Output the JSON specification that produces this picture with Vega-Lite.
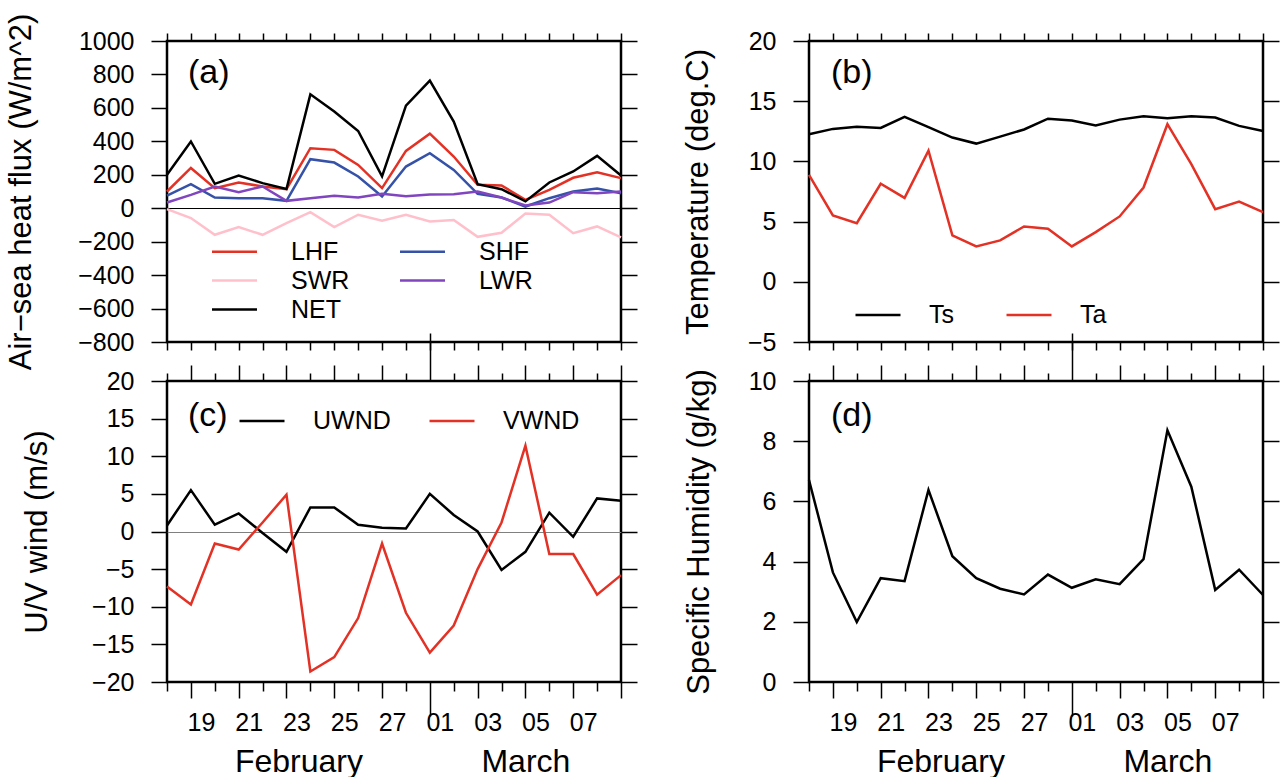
{
  "$schema": "https://vega.github.io/schema/vega-lite/v6.json",
  "background": "white",
  "padding": {"left": 4, "top": 11, "right": 5, "bottom": 5},
  "datasets": {
    "flux": [
      {"t":"2015-02-18","k":"LHF","v":100},{"t":"2015-02-19","k":"LHF","v":241},{"t":"2015-02-20","k":"LHF","v":120},{"t":"2015-02-21","k":"LHF","v":154},{"t":"2015-02-22","k":"LHF","v":130},{"t":"2015-02-23","k":"LHF","v":114},{"t":"2015-02-24","k":"LHF","v":359},{"t":"2015-02-25","k":"LHF","v":349},{"t":"2015-02-26","k":"LHF","v":259},{"t":"2015-02-27","k":"LHF","v":120},{"t":"2015-02-28","k":"LHF","v":343},{"t":"2015-03-01","k":"LHF","v":446},{"t":"2015-03-02","k":"LHF","v":309},{"t":"2015-03-03","k":"LHF","v":140},{"t":"2015-03-04","k":"LHF","v":136},{"t":"2015-03-05","k":"LHF","v":50},{"t":"2015-03-06","k":"LHF","v":110},{"t":"2015-03-07","k":"LHF","v":182},{"t":"2015-03-08","k":"LHF","v":215},{"t":"2015-03-09","k":"LHF","v":180},
      {"t":"2015-02-18","k":"SHF","v":76},{"t":"2015-02-19","k":"SHF","v":144},{"t":"2015-02-20","k":"SHF","v":64},{"t":"2015-02-21","k":"SHF","v":60},{"t":"2015-02-22","k":"SHF","v":60},{"t":"2015-02-23","k":"SHF","v":44},{"t":"2015-02-24","k":"SHF","v":293},{"t":"2015-02-25","k":"SHF","v":273},{"t":"2015-02-26","k":"SHF","v":190},{"t":"2015-02-27","k":"SHF","v":70},{"t":"2015-02-28","k":"SHF","v":249},{"t":"2015-03-01","k":"SHF","v":329},{"t":"2015-03-02","k":"SHF","v":229},{"t":"2015-03-03","k":"SHF","v":86},{"t":"2015-03-04","k":"SHF","v":64},{"t":"2015-03-05","k":"SHF","v":10},{"t":"2015-03-06","k":"SHF","v":60},{"t":"2015-03-07","k":"SHF","v":100},{"t":"2015-03-08","k":"SHF","v":118},{"t":"2015-03-09","k":"SHF","v":90},
      {"t":"2015-02-18","k":"SWR","v":-5},{"t":"2015-02-19","k":"SWR","v":-59},{"t":"2015-02-20","k":"SWR","v":-159},{"t":"2015-02-21","k":"SWR","v":-113},{"t":"2015-02-22","k":"SWR","v":-159},{"t":"2015-02-23","k":"SWR","v":-89},{"t":"2015-02-24","k":"SWR","v":-24},{"t":"2015-02-25","k":"SWR","v":-113},{"t":"2015-02-26","k":"SWR","v":-39},{"t":"2015-02-27","k":"SWR","v":-75},{"t":"2015-02-28","k":"SWR","v":-39},{"t":"2015-03-01","k":"SWR","v":-79},{"t":"2015-03-02","k":"SWR","v":-71},{"t":"2015-03-03","k":"SWR","v":-171},{"t":"2015-03-04","k":"SWR","v":-147},{"t":"2015-03-05","k":"SWR","v":-31},{"t":"2015-03-06","k":"SWR","v":-39},{"t":"2015-03-07","k":"SWR","v":-149},{"t":"2015-03-08","k":"SWR","v":-109},{"t":"2015-03-09","k":"SWR","v":-175},
      {"t":"2015-02-18","k":"LWR","v":34},{"t":"2015-02-19","k":"LWR","v":80},{"t":"2015-02-20","k":"LWR","v":130},{"t":"2015-02-21","k":"LWR","v":96},{"t":"2015-02-22","k":"LWR","v":130},{"t":"2015-02-23","k":"LWR","v":44},{"t":"2015-02-24","k":"LWR","v":60},{"t":"2015-02-25","k":"LWR","v":74},{"t":"2015-02-26","k":"LWR","v":64},{"t":"2015-02-27","k":"LWR","v":86},{"t":"2015-02-28","k":"LWR","v":72},{"t":"2015-03-01","k":"LWR","v":82},{"t":"2015-03-02","k":"LWR","v":84},{"t":"2015-03-03","k":"LWR","v":100},{"t":"2015-03-04","k":"LWR","v":64},{"t":"2015-03-05","k":"LWR","v":16},{"t":"2015-03-06","k":"LWR","v":34},{"t":"2015-03-07","k":"LWR","v":96},{"t":"2015-03-08","k":"LWR","v":90},{"t":"2015-03-09","k":"LWR","v":100},
      {"t":"2015-02-18","k":"NET","v":200},{"t":"2015-02-19","k":"NET","v":399},{"t":"2015-02-20","k":"NET","v":146},{"t":"2015-02-21","k":"NET","v":196},{"t":"2015-02-22","k":"NET","v":150},{"t":"2015-02-23","k":"NET","v":115},{"t":"2015-02-24","k":"NET","v":681},{"t":"2015-02-25","k":"NET","v":578},{"t":"2015-02-26","k":"NET","v":462},{"t":"2015-02-27","k":"NET","v":190},{"t":"2015-02-28","k":"NET","v":614},{"t":"2015-03-01","k":"NET","v":763},{"t":"2015-03-02","k":"NET","v":518},{"t":"2015-03-03","k":"NET","v":144},{"t":"2015-03-04","k":"NET","v":114},{"t":"2015-03-05","k":"NET","v":41},{"t":"2015-03-06","k":"NET","v":154},{"t":"2015-03-07","k":"NET","v":220},{"t":"2015-03-08","k":"NET","v":313},{"t":"2015-03-09","k":"NET","v":196}
    ],
    "temp": [
      {"t":"2015-02-18","k":"Ts","v":12.26},{"t":"2015-02-19","k":"Ts","v":12.70},{"t":"2015-02-20","k":"Ts","v":12.87},{"t":"2015-02-21","k":"Ts","v":12.78},{"t":"2015-02-22","k":"Ts","v":13.70},{"t":"2015-02-23","k":"Ts","v":12.84},{"t":"2015-02-24","k":"Ts","v":11.98},{"t":"2015-02-25","k":"Ts","v":11.48},{"t":"2015-02-26","k":"Ts","v":12.06},{"t":"2015-02-27","k":"Ts","v":12.65},{"t":"2015-02-28","k":"Ts","v":13.55},{"t":"2015-03-01","k":"Ts","v":13.39},{"t":"2015-03-02","k":"Ts","v":12.98},{"t":"2015-03-03","k":"Ts","v":13.47},{"t":"2015-03-04","k":"Ts","v":13.75},{"t":"2015-03-05","k":"Ts","v":13.58},{"t":"2015-03-06","k":"Ts","v":13.75},{"t":"2015-03-07","k":"Ts","v":13.64},{"t":"2015-03-08","k":"Ts","v":12.95},{"t":"2015-03-09","k":"Ts","v":12.53},
      {"t":"2015-02-18","k":"Ta","v":8.88},{"t":"2015-02-19","k":"Ta","v":5.51},{"t":"2015-02-20","k":"Ta","v":4.87},{"t":"2015-02-21","k":"Ta","v":8.14},{"t":"2015-02-22","k":"Ta","v":6.97},{"t":"2015-02-23","k":"Ta","v":10.90},{"t":"2015-02-24","k":"Ta","v":3.85},{"t":"2015-02-25","k":"Ta","v":2.94},{"t":"2015-02-26","k":"Ta","v":3.44},{"t":"2015-02-27","k":"Ta","v":4.60},{"t":"2015-02-28","k":"Ta","v":4.40},{"t":"2015-03-01","k":"Ta","v":2.94},{"t":"2015-03-02","k":"Ta","v":4.13},{"t":"2015-03-03","k":"Ta","v":5.43},{"t":"2015-03-04","k":"Ta","v":7.83},{"t":"2015-03-05","k":"Ta","v":13.09},{"t":"2015-03-06","k":"Ta","v":9.77},{"t":"2015-03-07","k":"Ta","v":6.03},{"t":"2015-03-08","k":"Ta","v":6.67},{"t":"2015-03-09","k":"Ta","v":5.79}
    ],
    "wind": [
      {"t":"2015-02-18","k":"UWND","v":0.8},{"t":"2015-02-19","k":"UWND","v":5.5},{"t":"2015-02-20","k":"UWND","v":0.9},{"t":"2015-02-21","k":"UWND","v":2.4},{"t":"2015-02-22","k":"UWND","v":-0.2},{"t":"2015-02-23","k":"UWND","v":-2.7},{"t":"2015-02-24","k":"UWND","v":3.2},{"t":"2015-02-25","k":"UWND","v":3.2},{"t":"2015-02-26","k":"UWND","v":0.9},{"t":"2015-02-27","k":"UWND","v":0.5},{"t":"2015-02-28","k":"UWND","v":0.4},{"t":"2015-03-01","k":"UWND","v":5.0},{"t":"2015-03-02","k":"UWND","v":2.2},{"t":"2015-03-03","k":"UWND","v":0.0},{"t":"2015-03-04","k":"UWND","v":-5.1},{"t":"2015-03-05","k":"UWND","v":-2.7},{"t":"2015-03-06","k":"UWND","v":2.5},{"t":"2015-03-07","k":"UWND","v":-0.7},{"t":"2015-03-08","k":"UWND","v":4.4},{"t":"2015-03-09","k":"UWND","v":4.1},
      {"t":"2015-02-18","k":"VWND","v":-7.3},{"t":"2015-02-19","k":"VWND","v":-9.7},{"t":"2015-02-20","k":"VWND","v":-1.6},{"t":"2015-02-21","k":"VWND","v":-2.4},{"t":"2015-02-22","k":"VWND","v":1.2},{"t":"2015-02-23","k":"VWND","v":4.9},{"t":"2015-02-24","k":"VWND","v":-18.6},{"t":"2015-02-25","k":"VWND","v":-16.7},{"t":"2015-02-26","k":"VWND","v":-11.5},{"t":"2015-02-27","k":"VWND","v":-1.6},{"t":"2015-02-28","k":"VWND","v":-10.8},{"t":"2015-03-01","k":"VWND","v":-16.1},{"t":"2015-03-02","k":"VWND","v":-12.5},{"t":"2015-03-03","k":"VWND","v":-5.0},{"t":"2015-03-04","k":"VWND","v":1.2},{"t":"2015-03-05","k":"VWND","v":11.4},{"t":"2015-03-06","k":"VWND","v":-3.0},{"t":"2015-03-07","k":"VWND","v":-3.0},{"t":"2015-03-08","k":"VWND","v":-8.4},{"t":"2015-03-09","k":"VWND","v":-5.8}
    ],
    "hum": [
      {"t":"2015-02-18","v":6.71},{"t":"2015-02-19","v":3.64},{"t":"2015-02-20","v":1.99},{"t":"2015-02-21","v":3.45},{"t":"2015-02-22","v":3.35},{"t":"2015-02-23","v":6.38},{"t":"2015-02-24","v":4.18},{"t":"2015-02-25","v":3.45},{"t":"2015-02-26","v":3.10},{"t":"2015-02-27","v":2.91},{"t":"2015-02-28","v":3.57},{"t":"2015-03-01","v":3.13},{"t":"2015-03-02","v":3.41},{"t":"2015-03-03","v":3.25},{"t":"2015-03-04","v":4.08},{"t":"2015-03-05","v":8.36},{"t":"2015-03-06","v":6.49},{"t":"2015-03-07","v":3.06},{"t":"2015-03-08","v":3.73},{"t":"2015-03-09","v":2.89}
    ]
  },
  "concat": [
    {
      "width": 454, "height": 301,
      "data": {"name": "flux"},
      "title": {"text": "(a)", "anchor": "start", "frame": "group", "offset": 0, "dx": 21, "dy": 77},
      "layer": [
        {"mark": {"type": "line", "strokeWidth": 2.5},
         "encoding": {
           "x": {"field": "t", "type": "temporal", "scale": {"type": "utc", "domain": [{"year":2015,"month":2,"date":18,"utc":true},{"year":2015,"month":3,"date":9,"utc":true}]},
                 "axis": {"orient": "bottom", "title": null, "labels": false, "tickSize": 8,
                   "values": [{"year":2015,"month":2,"date":18,"utc":true},{"year":2015,"month":2,"date":19,"utc":true},{"year":2015,"month":2,"date":20,"utc":true},{"year":2015,"month":2,"date":21,"utc":true},{"year":2015,"month":2,"date":22,"utc":true},{"year":2015,"month":2,"date":23,"utc":true},{"year":2015,"month":2,"date":24,"utc":true},{"year":2015,"month":2,"date":25,"utc":true},{"year":2015,"month":2,"date":26,"utc":true},{"year":2015,"month":2,"date":27,"utc":true},{"year":2015,"month":2,"date":28,"utc":true},{"year":2015,"month":3,"date":1,"utc":true},{"year":2015,"month":3,"date":2,"utc":true},{"year":2015,"month":3,"date":3,"utc":true},{"year":2015,"month":3,"date":4,"utc":true},{"year":2015,"month":3,"date":5,"utc":true},{"year":2015,"month":3,"date":6,"utc":true},{"year":2015,"month":3,"date":7,"utc":true},{"year":2015,"month":3,"date":8,"utc":true},{"year":2015,"month":3,"date":9,"utc":true}]}},
           "y": {"field": "v", "type": "quantitative", "scale": {"domain": [-800, 1000]},
                 "axis": {"orient": "left", "title": "Air−sea heat flux (W/m^2)", "values": [-800,-600,-400,-200,0,200,400,600,800,1000], "format": "d", "tickSize": 16, "labelPadding": 17, "titlePadding": 40}},
           "color": {"field": "k", "type": "nominal",
                     "scale": {"domain": ["LHF","SWR","NET","SHF","LWR"], "range": ["#e33225","#ffc0cb","#000000","#3552a8","#8045bf"]},
                     "legend": {"orient": "none", "legendX": 55, "legendY": 198, "columns": 2, "title": null,
                                "symbolType": "M-2,0H2", "symbolSize": 506, "labelOffset": 44,
                                "columnPadding": 45, "rowPadding": 3}}
         }},
        {"mark": {"type": "point", "opacity": 0},
         "encoding": {
           "x": {"field": "t", "type": "temporal", "scale": {"type": "utc", "domain": [{"year":2015,"month":2,"date":18,"utc":true},{"year":2015,"month":3,"date":9,"utc":true}]},
                 "axis": {"orient": "top", "title": null, "labels": false, "tickSize": 8,
                   "values": [{"year":2015,"month":2,"date":18,"utc":true},{"year":2015,"month":2,"date":19,"utc":true},{"year":2015,"month":2,"date":20,"utc":true},{"year":2015,"month":2,"date":21,"utc":true},{"year":2015,"month":2,"date":22,"utc":true},{"year":2015,"month":2,"date":23,"utc":true},{"year":2015,"month":2,"date":24,"utc":true},{"year":2015,"month":2,"date":25,"utc":true},{"year":2015,"month":2,"date":26,"utc":true},{"year":2015,"month":2,"date":27,"utc":true},{"year":2015,"month":2,"date":28,"utc":true},{"year":2015,"month":3,"date":1,"utc":true},{"year":2015,"month":3,"date":2,"utc":true},{"year":2015,"month":3,"date":3,"utc":true},{"year":2015,"month":3,"date":4,"utc":true},{"year":2015,"month":3,"date":5,"utc":true},{"year":2015,"month":3,"date":6,"utc":true},{"year":2015,"month":3,"date":7,"utc":true},{"year":2015,"month":3,"date":8,"utc":true},{"year":2015,"month":3,"date":9,"utc":true}]}},
           "y": {"field": "v", "type": "quantitative", "scale": {"domain": [-800, 1000]},
                 "axis": {"orient": "right", "title": null, "labels": false, "tickSize": 16, "values": [-800,-600,-400,-200,0,200,400,600,800,1000]}}
         }},
        {"mark": {"type": "point", "opacity": 0},
         "encoding": {
           "x": {"field": "t", "type": "temporal", "scale": {"type": "utc", "domain": [{"year":2015,"month":2,"date":18,"utc":true},{"year":2015,"month":3,"date":9,"utc":true}]}, "axis": null},
           "y": {"field": "v", "type": "quantitative", "scale": {"domain": [-800, 1000]},
                 "axis": {"orient": "left", "title": null, "labels": false, "ticks": false, "grid": true, "gridColor": "black", "gridWidth": 1, "gridOpacity": 1, "values": [0]}}
         }}
      ],
      "resolve": {"axis": {"x": "independent", "y": "independent"}}
    },
    {
      "width": 454, "height": 301,
      "data": {"name": "temp"},
      "title": {"text": "(b)", "anchor": "start", "frame": "group", "offset": 0, "dx": 22, "dy": 61},
      "layer": [
        {"mark": {"type": "line", "strokeWidth": 2.5},
         "encoding": {
           "x": {"field": "t", "type": "temporal", "scale": {"type": "utc", "domain": [{"year":2015,"month":2,"date":18,"utc":true},{"year":2015,"month":3,"date":9,"utc":true}]},
                 "axis": {"orient": "bottom", "title": null, "labels": false, "tickSize": 8,
                   "values": [{"year":2015,"month":2,"date":18,"utc":true},{"year":2015,"month":2,"date":19,"utc":true},{"year":2015,"month":2,"date":20,"utc":true},{"year":2015,"month":2,"date":21,"utc":true},{"year":2015,"month":2,"date":22,"utc":true},{"year":2015,"month":2,"date":23,"utc":true},{"year":2015,"month":2,"date":24,"utc":true},{"year":2015,"month":2,"date":25,"utc":true},{"year":2015,"month":2,"date":26,"utc":true},{"year":2015,"month":2,"date":27,"utc":true},{"year":2015,"month":2,"date":28,"utc":true},{"year":2015,"month":3,"date":1,"utc":true},{"year":2015,"month":3,"date":2,"utc":true},{"year":2015,"month":3,"date":3,"utc":true},{"year":2015,"month":3,"date":4,"utc":true},{"year":2015,"month":3,"date":5,"utc":true},{"year":2015,"month":3,"date":6,"utc":true},{"year":2015,"month":3,"date":7,"utc":true},{"year":2015,"month":3,"date":8,"utc":true},{"year":2015,"month":3,"date":9,"utc":true}]}},
           "y": {"field": "v", "type": "quantitative", "scale": {"domain": [-5, 20]},
                 "axis": {"orient": "left", "title": "Temperature (deg.C)", "values": [-5,0,5,10,15,20], "format": "d", "tickSize": 16, "labelPadding": 17, "titlePadding": 33}},
           "color": {"field": "k", "type": "nominal",
                     "scale": {"domain": ["Ts","Ta"], "range": ["#000000","#e33225"]},
                     "legend": {"orient": "none", "legendX": 45, "legendY": 250, "direction": "horizontal", "title": null, "columnPadding": 47}}
         }},
        {"mark": {"type": "point", "opacity": 0},
         "encoding": {
           "x": {"field": "t", "type": "temporal", "scale": {"type": "utc", "domain": [{"year":2015,"month":2,"date":18,"utc":true},{"year":2015,"month":3,"date":9,"utc":true}]},
                 "axis": {"orient": "top", "title": null, "labels": false, "tickSize": 8,
                   "values": [{"year":2015,"month":2,"date":18,"utc":true},{"year":2015,"month":2,"date":19,"utc":true},{"year":2015,"month":2,"date":20,"utc":true},{"year":2015,"month":2,"date":21,"utc":true},{"year":2015,"month":2,"date":22,"utc":true},{"year":2015,"month":2,"date":23,"utc":true},{"year":2015,"month":2,"date":24,"utc":true},{"year":2015,"month":2,"date":25,"utc":true},{"year":2015,"month":2,"date":26,"utc":true},{"year":2015,"month":2,"date":27,"utc":true},{"year":2015,"month":2,"date":28,"utc":true},{"year":2015,"month":3,"date":1,"utc":true},{"year":2015,"month":3,"date":2,"utc":true},{"year":2015,"month":3,"date":3,"utc":true},{"year":2015,"month":3,"date":4,"utc":true},{"year":2015,"month":3,"date":5,"utc":true},{"year":2015,"month":3,"date":6,"utc":true},{"year":2015,"month":3,"date":7,"utc":true},{"year":2015,"month":3,"date":8,"utc":true},{"year":2015,"month":3,"date":9,"utc":true}]}},
           "y": {"field": "v", "type": "quantitative", "scale": {"domain": [-5, 20]},
                 "axis": {"orient": "right", "title": null, "labels": false, "tickSize": 16, "values": [-5,0,5,10,15,20]}}
         }}
      ],
      "resolve": {"axis": {"x": "independent", "y": "independent"}}
    },
    {
      "width": 454, "height": 301,
      "data": {"name": "wind"},
      "title": {"text": "(c)", "anchor": "start", "frame": "group", "offset": 0, "dx": 21, "dy": 101},
      "layer": [
        {"mark": {"type": "line", "strokeWidth": 2.5},
         "encoding": {
           "x": {"field": "t", "type": "temporal", "scale": {"type": "utc", "domain": [{"year":2015,"month":2,"date":18,"utc":true},{"year":2015,"month":3,"date":9,"utc":true}]},
                 "axis": {"orient": "bottom", "title": null, "labels": false,
                   "tickSize": {"condition": [{"test": "utcmonth(datum.value) == 2 && utcdate(datum.value) == 1", "value": 34}, {"test": "utcdate(datum.value) % 2 == 1", "value": 16}], "value": 9},
                   "values": [{"year":2015,"month":2,"date":18,"utc":true},{"year":2015,"month":2,"date":19,"utc":true},{"year":2015,"month":2,"date":20,"utc":true},{"year":2015,"month":2,"date":21,"utc":true},{"year":2015,"month":2,"date":22,"utc":true},{"year":2015,"month":2,"date":23,"utc":true},{"year":2015,"month":2,"date":24,"utc":true},{"year":2015,"month":2,"date":25,"utc":true},{"year":2015,"month":2,"date":26,"utc":true},{"year":2015,"month":2,"date":27,"utc":true},{"year":2015,"month":2,"date":28,"utc":true},{"year":2015,"month":3,"date":1,"utc":true},{"year":2015,"month":3,"date":2,"utc":true},{"year":2015,"month":3,"date":3,"utc":true},{"year":2015,"month":3,"date":4,"utc":true},{"year":2015,"month":3,"date":5,"utc":true},{"year":2015,"month":3,"date":6,"utc":true},{"year":2015,"month":3,"date":7,"utc":true},{"year":2015,"month":3,"date":8,"utc":true},{"year":2015,"month":3,"date":9,"utc":true}]}},
           "y": {"field": "v", "type": "quantitative", "scale": {"domain": [-20, 20]},
                 "axis": {"orient": "left", "title": "U/V wind (m/s)", "values": [-20,-15,-10,-5,0,5,10,15,20], "format": "d", "tickSize": 16, "labelPadding": 17, "titlePadding": 38}},
           "color": {"field": "k", "type": "nominal",
                     "scale": {"domain": ["UWND","VWND"], "range": ["#000000","#e33225"]},
                     "legend": {"orient": "none", "legendX": 71, "legendY": 16, "direction": "horizontal", "title": null, "columnPadding": 33}}
         }},
        {"mark": {"type": "point", "opacity": 0},
         "encoding": {
           "x": {"field": "t", "type": "temporal", "scale": {"type": "utc", "domain": [{"year":2015,"month":2,"date":18,"utc":true},{"year":2015,"month":3,"date":9,"utc":true}]},
                 "axis": {"orient": "top", "title": null, "labels": false,
                   "tickSize": {"condition": [{"test": "utcmonth(datum.value) == 2 && utcdate(datum.value) == 1", "value": 48}, {"test": "utcdate(datum.value) % 2 == 1", "value": 16}], "value": 8},
                   "values": [{"year":2015,"month":2,"date":18,"utc":true},{"year":2015,"month":2,"date":19,"utc":true},{"year":2015,"month":2,"date":20,"utc":true},{"year":2015,"month":2,"date":21,"utc":true},{"year":2015,"month":2,"date":22,"utc":true},{"year":2015,"month":2,"date":23,"utc":true},{"year":2015,"month":2,"date":24,"utc":true},{"year":2015,"month":2,"date":25,"utc":true},{"year":2015,"month":2,"date":26,"utc":true},{"year":2015,"month":2,"date":27,"utc":true},{"year":2015,"month":2,"date":28,"utc":true},{"year":2015,"month":3,"date":1,"utc":true},{"year":2015,"month":3,"date":2,"utc":true},{"year":2015,"month":3,"date":3,"utc":true},{"year":2015,"month":3,"date":4,"utc":true},{"year":2015,"month":3,"date":5,"utc":true},{"year":2015,"month":3,"date":6,"utc":true},{"year":2015,"month":3,"date":7,"utc":true},{"year":2015,"month":3,"date":8,"utc":true},{"year":2015,"month":3,"date":9,"utc":true}]}},
           "y": {"field": "v", "type": "quantitative", "scale": {"domain": [-20, 20]},
                 "axis": {"orient": "right", "title": null, "labels": false, "tickSize": 16, "values": [-20,-15,-10,-5,0,5,10,15,20]}}
         }},
        {"mark": {"type": "point", "opacity": 0},
         "encoding": {
           "x": {"field": "t", "type": "temporal", "scale": {"type": "utc", "domain": [{"year":2015,"month":2,"date":18,"utc":true},{"year":2015,"month":3,"date":9,"utc":true}]},
                 "axis": {"orient": "bottom", "title": null, "ticks": false, "labelPadding": 28, "labelOffset": 10, "labelFontSize": 25,
                   "labelExpr": "utcFormat(datum.value, '%d')",
                   "values": [{"year":2015,"month":2,"date":19,"utc":true},{"year":2015,"month":2,"date":21,"utc":true},{"year":2015,"month":2,"date":23,"utc":true},{"year":2015,"month":2,"date":25,"utc":true},{"year":2015,"month":2,"date":27,"utc":true},{"year":2015,"month":3,"date":1,"utc":true},{"year":2015,"month":3,"date":3,"utc":true},{"year":2015,"month":3,"date":5,"utc":true},{"year":2015,"month":3,"date":7,"utc":true}]}},
           "y": {"field": "v", "type": "quantitative", "scale": {"domain": [-20, 20]},
                 "axis": {"orient": "left", "title": null, "labels": false, "ticks": false, "grid": true, "gridColor": "#808080", "gridWidth": 1, "gridOpacity": 1, "values": [0]}}
         }},
        {"mark": {"type": "point", "opacity": 0},
         "encoding": {
           "x": {"field": "t", "type": "temporal", "scale": {"type": "utc", "domain": [{"year":2015,"month":2,"date":18,"utc":true},{"year":2015,"month":3,"date":9,"utc":true}]},
                 "axis": {"orient": "bottom", "title": null, "ticks": false, "labelPadding": 64, "labelFontSize": 32,
                   "labelExpr": "utcFormat(datum.value, '%B')",
                   "values": [{"year":2015,"month":2,"date":23,"hours":12,"utc":true},{"year":2015,"month":3,"date":5,"utc":true}]}},
           "y": {"field": "v", "type": "quantitative", "scale": {"domain": [-20, 20]}, "axis": null}
         }}
      ],
      "resolve": {"axis": {"x": "independent", "y": "independent"}}
    },
    {
      "width": 454, "height": 301,
      "data": {"name": "hum"},
      "title": {"text": "(d)", "anchor": "start", "frame": "group", "offset": 0, "dx": 22, "dy": 101},
      "layer": [
        {"mark": {"type": "line", "strokeWidth": 2.5, "color": "black"},
         "encoding": {
           "x": {"field": "t", "type": "temporal", "scale": {"type": "utc", "domain": [{"year":2015,"month":2,"date":18,"utc":true},{"year":2015,"month":3,"date":9,"utc":true}]},
                 "axis": {"orient": "bottom", "title": null, "labels": false,
                   "tickSize": {"condition": [{"test": "utcmonth(datum.value) == 2 && utcdate(datum.value) == 1", "value": 34}, {"test": "utcdate(datum.value) % 2 == 1", "value": 16}], "value": 9},
                   "values": [{"year":2015,"month":2,"date":18,"utc":true},{"year":2015,"month":2,"date":19,"utc":true},{"year":2015,"month":2,"date":20,"utc":true},{"year":2015,"month":2,"date":21,"utc":true},{"year":2015,"month":2,"date":22,"utc":true},{"year":2015,"month":2,"date":23,"utc":true},{"year":2015,"month":2,"date":24,"utc":true},{"year":2015,"month":2,"date":25,"utc":true},{"year":2015,"month":2,"date":26,"utc":true},{"year":2015,"month":2,"date":27,"utc":true},{"year":2015,"month":2,"date":28,"utc":true},{"year":2015,"month":3,"date":1,"utc":true},{"year":2015,"month":3,"date":2,"utc":true},{"year":2015,"month":3,"date":3,"utc":true},{"year":2015,"month":3,"date":4,"utc":true},{"year":2015,"month":3,"date":5,"utc":true},{"year":2015,"month":3,"date":6,"utc":true},{"year":2015,"month":3,"date":7,"utc":true},{"year":2015,"month":3,"date":8,"utc":true},{"year":2015,"month":3,"date":9,"utc":true}]}},
           "y": {"field": "v", "type": "quantitative", "scale": {"domain": [0, 10]},
                 "axis": {"orient": "left", "title": "Specific Humidity (g/kg)", "values": [0,2,4,6,8,10], "format": "d", "tickSize": 16, "labelPadding": 17, "titlePadding": 33}}
         }},
        {"mark": {"type": "point", "opacity": 0},
         "encoding": {
           "x": {"field": "t", "type": "temporal", "scale": {"type": "utc", "domain": [{"year":2015,"month":2,"date":18,"utc":true},{"year":2015,"month":3,"date":9,"utc":true}]},
                 "axis": {"orient": "top", "title": null, "labels": false,
                   "tickSize": {"condition": [{"test": "utcmonth(datum.value) == 2 && utcdate(datum.value) == 1", "value": 48}, {"test": "utcdate(datum.value) % 2 == 1", "value": 16}], "value": 8},
                   "values": [{"year":2015,"month":2,"date":18,"utc":true},{"year":2015,"month":2,"date":19,"utc":true},{"year":2015,"month":2,"date":20,"utc":true},{"year":2015,"month":2,"date":21,"utc":true},{"year":2015,"month":2,"date":22,"utc":true},{"year":2015,"month":2,"date":23,"utc":true},{"year":2015,"month":2,"date":24,"utc":true},{"year":2015,"month":2,"date":25,"utc":true},{"year":2015,"month":2,"date":26,"utc":true},{"year":2015,"month":2,"date":27,"utc":true},{"year":2015,"month":2,"date":28,"utc":true},{"year":2015,"month":3,"date":1,"utc":true},{"year":2015,"month":3,"date":2,"utc":true},{"year":2015,"month":3,"date":3,"utc":true},{"year":2015,"month":3,"date":4,"utc":true},{"year":2015,"month":3,"date":5,"utc":true},{"year":2015,"month":3,"date":6,"utc":true},{"year":2015,"month":3,"date":7,"utc":true},{"year":2015,"month":3,"date":8,"utc":true},{"year":2015,"month":3,"date":9,"utc":true}]}},
           "y": {"field": "v", "type": "quantitative", "scale": {"domain": [0, 10]},
                 "axis": {"orient": "right", "title": null, "labels": false, "tickSize": 16, "values": [0,2,4,6,8,10]}}
         }},
        {"mark": {"type": "point", "opacity": 0},
         "encoding": {
           "x": {"field": "t", "type": "temporal", "scale": {"type": "utc", "domain": [{"year":2015,"month":2,"date":18,"utc":true},{"year":2015,"month":3,"date":9,"utc":true}]},
                 "axis": {"orient": "bottom", "title": null, "ticks": false, "labelPadding": 28, "labelOffset": 10, "labelFontSize": 25,
                   "labelExpr": "utcFormat(datum.value, '%d')",
                   "values": [{"year":2015,"month":2,"date":19,"utc":true},{"year":2015,"month":2,"date":21,"utc":true},{"year":2015,"month":2,"date":23,"utc":true},{"year":2015,"month":2,"date":25,"utc":true},{"year":2015,"month":2,"date":27,"utc":true},{"year":2015,"month":3,"date":1,"utc":true},{"year":2015,"month":3,"date":3,"utc":true},{"year":2015,"month":3,"date":5,"utc":true},{"year":2015,"month":3,"date":7,"utc":true}]}},
           "y": {"field": "v", "type": "quantitative", "scale": {"domain": [0, 10]}, "axis": null}
         }},
        {"mark": {"type": "point", "opacity": 0},
         "encoding": {
           "x": {"field": "t", "type": "temporal", "scale": {"type": "utc", "domain": [{"year":2015,"month":2,"date":18,"utc":true},{"year":2015,"month":3,"date":9,"utc":true}]},
                 "axis": {"orient": "bottom", "title": null, "ticks": false, "labelPadding": 64, "labelFontSize": 32,
                   "labelExpr": "utcFormat(datum.value, '%B')",
                   "values": [{"year":2015,"month":2,"date":23,"hours":12,"utc":true},{"year":2015,"month":3,"date":5,"utc":true}]}},
           "y": {"field": "v", "type": "quantitative", "scale": {"domain": [0, 10]}, "axis": null}
         }}
      ],
      "resolve": {"axis": {"x": "independent", "y": "independent"}}
    }
  ],
  "columns": 2,
  "spacing": {"row": 39, "column": 188},
  "bounds": "flush",
  "resolve": {"scale": {"color": "independent"}, "legend": {"color": "independent"}},
  "config": {
    "font": "Liberation Sans",
    "view": {"stroke": "black", "strokeWidth": 2.5},
    "axis": {"domain": false, "grid": false, "labelFont": "Liberation Sans", "labelFontSize": 25, "labelColor": "black",
             "tickColor": "black", "tickWidth": 1.5, "labelFlush": false, "labelOverlap": false, "labelBound": false,
             "titleFont": "Liberation Sans", "titleFontSize": 31, "titleFontWeight": "normal", "titleColor": "black"},
    "legend": {"labelFont": "Liberation Sans", "labelFontSize": 25, "labelColor": "black", "symbolType": "stroke",
               "symbolSize": 2025, "symbolStrokeWidth": 2.5, "labelOffset": 27, "padding": 0, "rowPadding": 5, "labelLimit": 300},
    "title": {"font": "Liberation Sans", "fontSize": 34, "fontWeight": "normal", "color": "black"}
  }
}
